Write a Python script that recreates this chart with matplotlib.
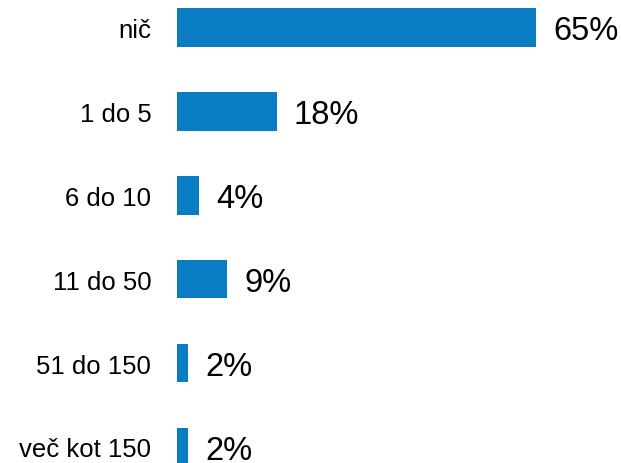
"""Horizontal bar chart of share per category, values printed at bar ends."""

import matplotlib

matplotlib.use("Agg")
import matplotlib.pyplot as plt

categories = ["nič", "1 do 5", "6 do 10", "11 do 50", "51 do 150", "več kot 150"]
values = [65, 18, 4, 9, 2, 2]
value_labels = ["65%", "18%", "4%", "9%", "2%", "2%"]

plt.rcParams["font.family"] = ["Liberation Sans", "DejaVu Sans"]

fig = plt.figure(figsize=(6.21, 4.64), dpi=100)
ax = fig.add_axes([177 / 621, 0, 1 - 177 / 621, 1])

pos = list(range(len(categories)))
ax.barh(pos, values, height=0.46, color="#0a7cc4")

for y, v, lab in zip(pos, values, value_labels):
    ax.annotate(lab, (v, y), xytext=(12.5, 0), textcoords="offset points",
                ha="left", va="center_baseline", fontsize=23.5, color="black")

ax.set_yticks(pos)
ax.set_yticklabels(categories, fontsize=18.5)
for lab in ax.get_yticklabels():
    lab.set_va("center_baseline")
ax.tick_params(axis="y", length=0, pad=18.5)
ax.set_xticks([])
ax.set_xlim(0, 444 / 5.53)
ax.set_ylim(5 + (464 - 448) / 83.9, -28.5 / 83.9)
for s in ax.spines.values():
    s.set_visible(False)

fig.savefig("out.png", dpi=100)
